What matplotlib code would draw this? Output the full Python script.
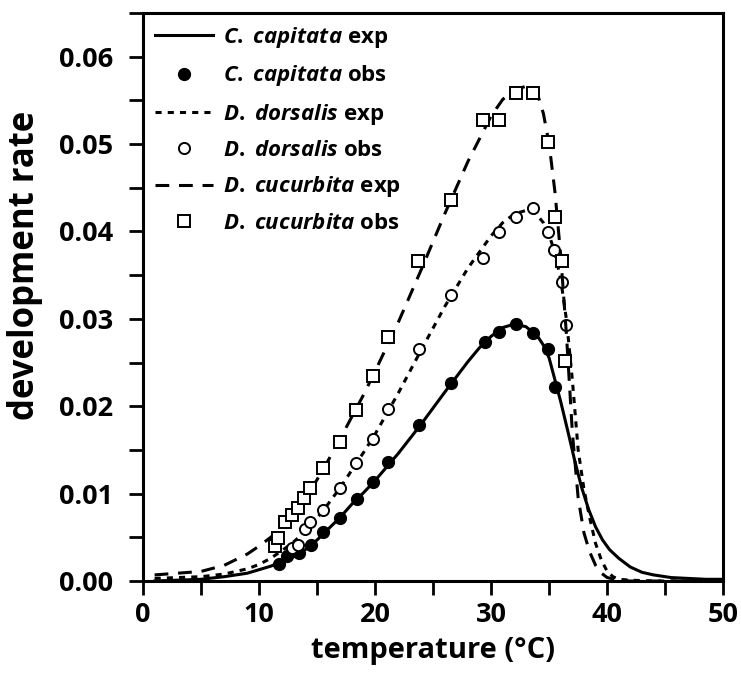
import matplotlib
matplotlib.use('Agg')
import matplotlib.pyplot as plt
from matplotlib.ticker import MultipleLocator

plt.rcParams['font.family'] = ['Open Sans', 'DejaVu Sans']
plt.rcParams['font.weight'] = 'bold'
plt.rcParams['mathtext.fontset'] = 'custom'
plt.rcParams['mathtext.it'] = 'Open Sans:italic:bold'
plt.rcParams['mathtext.rm'] = 'Open Sans:bold'

cap_T = [11.7, 12.4, 13.45, 14.5, 15.5, 17.0, 18.4, 19.8, 21.1, 23.8, 26.55, 29.5, 30.7, 32.1, 33.6, 34.9, 35.5]
cap_R = [0.0019, 0.0029, 0.0032, 0.0041, 0.0056, 0.0072, 0.0094, 0.0113, 0.0136, 0.0179, 0.0226, 0.0273, 0.0285, 0.0294, 0.0284, 0.0265, 0.0222]

dor_T = [12.85, 13.35, 13.95, 14.4, 15.5, 17.0, 18.35, 19.85, 21.1, 23.8, 26.55, 29.3, 30.7, 32.1, 33.6, 34.9, 35.45, 36.1, 36.45]
dor_R = [0.0038, 0.0041, 0.0060, 0.0068, 0.0081, 0.0107, 0.0135, 0.0163, 0.0197, 0.0266, 0.0327, 0.0370, 0.0399, 0.0417, 0.0427, 0.0399, 0.0379, 0.0342, 0.0293]

cuc_T = [11.4, 11.65, 12.25, 12.85, 13.35, 13.9, 14.4, 15.5, 17.0, 18.35, 19.85, 21.1, 23.7, 26.55, 29.3, 30.7, 32.1, 33.6, 34.9, 35.5, 36.1, 36.4]
cuc_R = [0.0040, 0.0049, 0.0067, 0.0075, 0.0083, 0.0095, 0.0106, 0.0129, 0.0159, 0.0196, 0.0235, 0.0279, 0.0366, 0.0436, 0.0528, 0.0527, 0.0558, 0.0558, 0.0502, 0.0417, 0.0366, 0.0252]

# model curves
cap_exp_T = [1, 3, 5, 7, 9, 10, 11, 12, 13, 14, 15, 16, 17, 18, 19, 20, 22, 24, 26, 28, 29, 30, 31, 32, 33, 34, 34.5, 35, 35.5, 36, 36.6, 37.2, 37.8, 38.4, 39, 39.6, 40.2, 41, 42, 43, 44, 45.5, 47, 48.5, 50]
cap_exp_R = [0.0, 0.0001, 0.0002, 0.0005, 0.0009, 0.0013, 0.0017, 0.0022, 0.0028, 0.0036, 0.0047, 0.0060, 0.0073, 0.0088, 0.0101, 0.0115, 0.0146, 0.0180, 0.0216, 0.0251, 0.0267, 0.0280, 0.0290, 0.0294, 0.0291, 0.0280, 0.0270, 0.0255, 0.0230, 0.0205, 0.0172, 0.0138, 0.0107, 0.0082, 0.0062, 0.0047, 0.0036, 0.0026, 0.0016, 0.0010, 0.0007, 0.0004, 0.0003, 0.0002, 0.0002]

dor_exp_T = [1, 3, 5, 7, 9, 10, 11, 12, 13, 14, 15, 16, 17, 18, 19, 20, 22, 24, 26, 28, 30, 31, 32, 33, 33.5, 34, 34.5, 35, 35.5, 36, 36.5, 37, 37.5, 38, 38.5, 39, 39.5, 40, 40.5, 41, 42, 44, 47, 50]
dor_exp_R = [0.0003, 0.0004, 0.0005, 0.0008, 0.0014, 0.0019, 0.0026, 0.0035, 0.0045, 0.0057, 0.0072, 0.0089, 0.0107, 0.0127, 0.0147, 0.0168, 0.0215, 0.0265, 0.0314, 0.0358, 0.0395, 0.0410, 0.0420, 0.0424, 0.0424, 0.0418, 0.0410, 0.0396, 0.0375, 0.0345, 0.0298, 0.0230, 0.0150, 0.0105, 0.0072, 0.0043, 0.0024, 0.0011, 0.0005, 0.0002, 0.0001, 0.0, 0.0, 0.0]

cuc_exp_T = [1, 3, 5, 7, 9, 10, 11, 12, 13, 14, 15, 16, 17, 18, 19, 20, 22, 24, 26, 28, 30, 31, 32, 33, 33.5, 34, 34.5, 35, 35.5, 36, 36.5, 37, 37.5, 38, 38.5, 39, 39.5, 40, 41, 42, 44, 47, 50]
cuc_exp_R = [0.0007, 0.0009, 0.0011, 0.0018, 0.0031, 0.0040, 0.0050, 0.0061, 0.0077, 0.0095, 0.0116, 0.0139, 0.0163, 0.0188, 0.0213, 0.0240, 0.0296, 0.0357, 0.0420, 0.0480, 0.0532, 0.0551, 0.0562, 0.0566, 0.0566, 0.0557, 0.0535, 0.0500, 0.0445, 0.0372, 0.0280, 0.0170, 0.0095, 0.0055, 0.0033, 0.0018, 0.0009, 0.0004, 0.0001, 0.0, 0.0, 0.0, 0.0]

fig = plt.figure(figsize=(7.41, 6.78), dpi=100)
ax = fig.add_axes([0.193, 0.143, 0.783, 0.838])

lw = 2.2
ax.plot(cap_exp_T, cap_exp_R, color='k', lw=lw, ls='-', label=r'$C.$ $capitata$ exp')
ax.plot(cap_T, cap_R, 'o', color='k', ms=8.5, label=r'$C.$ $capitata$ obs')
ax.plot(dor_exp_T, dor_exp_R, color='k', lw=lw, dashes=(2, 2), label=r'$D.$ $dorsalis$ exp')
ax.plot(dor_T, dor_R, 'o', mfc='white', mec='k', mew=1.4, ms=8, label=r'$D.$ $dorsalis$ obs')
ax.plot(cuc_exp_T, cuc_exp_R, color='k', lw=lw, dashes=(4.5, 3.2), label=r'$D.$ $cucurbita$ exp')
ax.plot(cuc_T, cuc_R, 's', mfc='white', mec='k', mew=1.4, ms=9, label=r'$D.$ $cucurbita$ obs')

ax.set_xlim(0, 50)
ax.set_ylim(0, 0.065)
ax.xaxis.set_major_locator(MultipleLocator(10))
ax.xaxis.set_minor_locator(MultipleLocator(5))
ax.yaxis.set_major_locator(MultipleLocator(0.01))
ax.yaxis.set_minor_locator(MultipleLocator(0.005))
ax.yaxis.set_major_formatter(plt.FuncFormatter(lambda v, p: '%.2f' % v))
for s in ax.spines.values():
    s.set_linewidth(2.2)
ax.tick_params(which='both', direction='out', length=10, width=2, labelsize=19.5)
ax.tick_params(axis='y', pad=11.5)
ax.tick_params(axis='x', pad=5)

ax.set_xlabel('temperature (°C)', fontsize=21, fontweight='bold', labelpad=6)
ax.set_ylabel('development rate', fontsize=25, fontweight='bold')
ax.yaxis.set_label_coords(-0.172, 0.555)

ax.legend(loc='upper left', frameon=False, fontsize=16, handlelength=2.6,
          handletextpad=0.45, labelspacing=0.6, borderaxespad=0.15)

fig.savefig('out.png', dpi=100)
